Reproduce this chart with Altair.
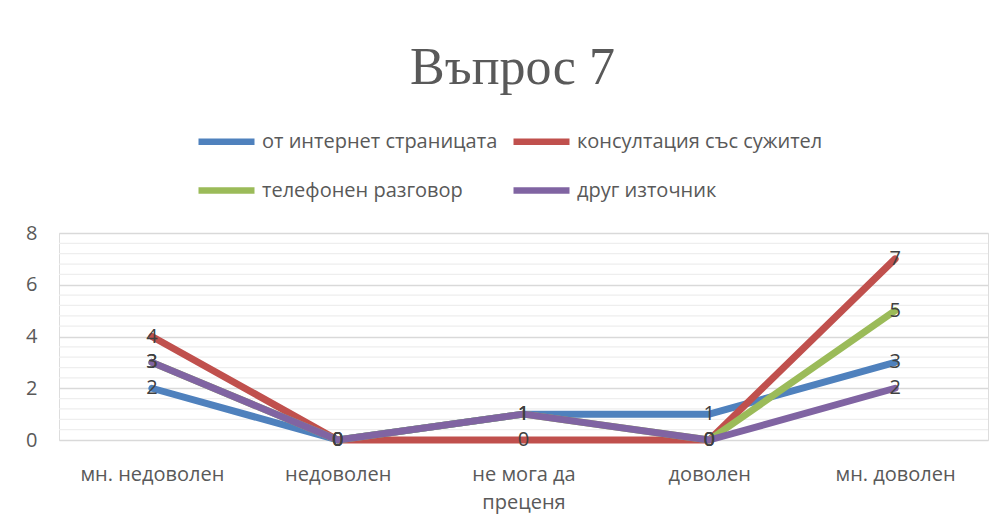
import altair as alt
import pandas as pd

categories = ["мн. недоволен", "недоволен", "не мога да преценя", "доволен", "мн. доволен"]
series_names = ["от интернет страницата", "консултация със сужител", "телефонен разговор", "друг източник"]
internet = [2, 0, 1, 1, 3]
consult = [4, 0, 0, 0, 7]
phone = [3, 0, 1, 0, 5]
other = [3, 0, 1, 0, 2]
colors = ["#4F81BD", "#C0504D", "#9BBB59", "#8064A2"]
major_ticks = [0, 2, 4, 6, 8]
minor_ticks = [0.4, 0.8, 1.2, 1.6, 2.4, 2.8, 3.2, 3.6, 4.4, 4.8, 5.2, 5.6, 6.4, 6.8, 7.2, 7.6]

rows = []
for s_idx, (name, vals) in enumerate(zip(series_names, [internet, consult, phone, other])):
    for c_idx, (cat, v) in enumerate(zip(categories, vals)):
        rows.append({"series": name, "cat": cat, "value": v, "ci": c_idx, "si": s_idx})
df = pd.DataFrame(rows)
minor_df = pd.DataFrame({"v": minor_ticks})

FONT = "Open Sans"
FS = 20
x_scale = alt.Scale(type="point", padding=0.5)
x_enc = alt.X("cat:N", sort=categories, scale=x_scale,
              axis=alt.Axis(title=None, labelAngle=0, labelFontSize=FS, labelColor="#595959",
                            labelFont=FONT, labelPadding=24, domain=False, ticks=False, grid=False,
                            labelLineHeight=28, labelLimit=400,
                            labelExpr="datum.label == 'не мога да преценя' ? ['не мога да', 'преценя'] : datum.label"))
y_scale = alt.Scale(domain=[0, 8], nice=False)
y_axis = alt.Axis(title=None, values=major_ticks, grid=True, gridColor="#d9d9d9", gridWidth=1.3,
                  domain=False, ticks=False, labelFontSize=FS, labelColor="#595959",
                  labelFont=FONT, labelPadding=22)

minor = alt.Chart(minor_df).mark_rule(color="#eeeeee", strokeWidth=1.2).encode(
    y=alt.Y("v:Q", scale=y_scale, axis=y_axis)
)

lines = alt.Chart(df).mark_line(strokeWidth=7, strokeCap="round", strokeJoin="round").encode(
    x=x_enc,
    y=alt.Y("value:Q", scale=y_scale, axis=y_axis),
    color=alt.Color("series:N", sort=series_names,
                    scale=alt.Scale(domain=series_names, range=colors),
                    legend=alt.Legend(title=None, orient="none", legendX=136, legendY=-123,
                                      columns=2, direction="horizontal", columnPadding=2, rowPadding=4,
                                      symbolType="stroke", symbolStrokeWidth=6.5, symbolSize=3136,
                                      labelFontSize=FS, labelColor="#595959", labelFont=FONT,
                                      labelOffset=4, labelLimit=400)),
    order=alt.Order("ci:Q"),
    detail="si:Q",
)

labels = alt.Chart(df).mark_text(fontSize=FS, color="#404040", font=FONT, align="center",
                                 baseline="middle").encode(
    x=alt.X("cat:N", sort=categories, scale=x_scale),
    y=alt.Y("value:Q", scale=y_scale),
    text="value:Q",
)

chart = alt.layer(minor, lines, labels).properties(
    width=929, height=207,
    autosize=alt.AutoSizeParams(type="none"),
    padding={"left": 51, "top": 225, "right": 10, "bottom": 77},
    title=alt.TitleParams("Въпрос 7", font="Liberation Serif", fontSize=52, color="#595959",
                          fontWeight="normal", anchor="middle", offset=15, dx=-11),
).configure_view(stroke=None).configure(background="white")

chart.save("out.html", embed_options={"renderer": "svg", "actions": False})
